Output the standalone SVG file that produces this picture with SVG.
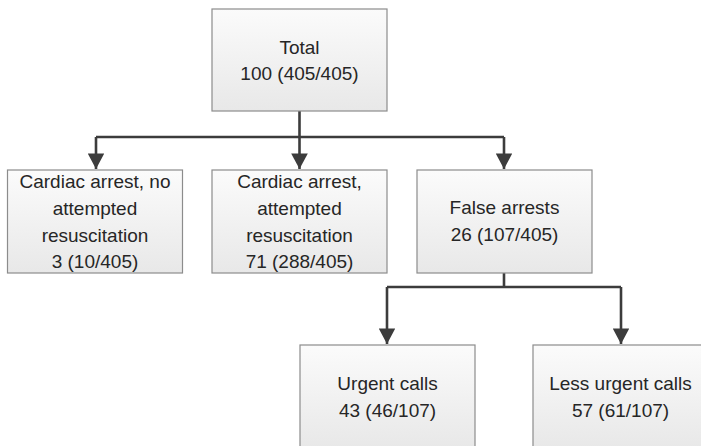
<svg xmlns="http://www.w3.org/2000/svg" width="701" height="446" viewBox="0 0 701 446">
<defs>
<linearGradient id="g" x1="0" y1="0" x2="0" y2="1">
<stop offset="0" stop-color="#fbfbfb"/>
<stop offset="1" stop-color="#e8e8e8"/>
</linearGradient>
<marker id="ah" markerWidth="6" markerHeight="6.4" refX="6" refY="3.2" orient="auto" markerUnits="strokeWidth">
<path d="M0,0 L6,3.2 L0,6.4 Z" fill="#3c3c3c"/>
</marker>
</defs>
<style>
.box{fill:url(#g);stroke:#8c8c8c;stroke-width:1.2}
text{font-family:"Liberation Sans",Arial,sans-serif;font-size:19px;fill:#262626;text-anchor:middle}
.c{fill:none;stroke:#3c3c3c;stroke-width:2.6}
</style>
<rect width="701" height="446" fill="#fff"/>
<g id="connectors">
<path class="c" d="M299.5,111 V137 M96,137 H504"/>
<path class="c" d="M96,137 V169" marker-end="url(#ah)"/>
<path class="c" d="M299.5,137 V169" marker-end="url(#ah)"/>
<path class="c" d="M504,137 V169" marker-end="url(#ah)"/>
<path class="c" d="M504,273 V287 M387,287 H621"/>
<path class="c" d="M387,287 V344" marker-end="url(#ah)"/>
<path class="c" d="M621,287 V344" marker-end="url(#ah)"/>
</g>
<g id="total">
<rect class="box" x="212" y="9" width="175" height="102"/>
<text x="299.5" y="54">Total</text>
<text x="299.5" y="80">100 (405/405)</text>
</g>
<g id="no-resus">
<rect class="box" x="7.5" y="170" width="175" height="103"/>
<text x="95" y="188">Cardiac arrest, no</text>
<text x="95" y="215">attempted</text>
<text x="95" y="242">resuscitation</text>
<text x="95" y="268">3 (10/405)</text>
</g>
<g id="resus">
<rect class="box" x="212" y="170" width="175" height="103"/>
<text x="299.5" y="188">Cardiac arrest,</text>
<text x="299.5" y="215">attempted</text>
<text x="299.5" y="242">resuscitation</text>
<text x="299.5" y="268">71 (288/405)</text>
</g>
<g id="false">
<rect class="box" x="417" y="170" width="175" height="103"/>
<text x="504.5" y="214">False arrests</text>
<text x="504.5" y="241">26 (107/405)</text>
</g>
<g id="urgent">
<rect class="box" x="300" y="345" width="175" height="103"/>
<text x="387.5" y="390">Urgent calls</text>
<text x="387.5" y="417">43 (46/107)</text>
</g>
<g id="less-urgent">
<rect class="box" x="533" y="345" width="175" height="103"/>
<text x="620.5" y="390">Less urgent calls</text>
<text x="620.5" y="417">57 (61/107)</text>
</g>
</svg>
